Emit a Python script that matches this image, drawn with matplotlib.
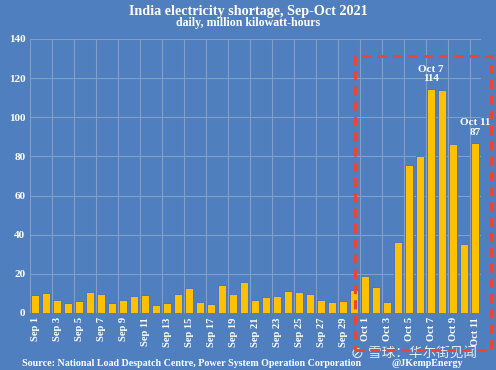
import matplotlib
matplotlib.use("Agg")
import matplotlib.pyplot as plt
from matplotlib.patches import Rectangle

days = [f"Sep {d}" for d in range(1, 31)] + [f"Oct {d}" for d in range(1, 12)]
values = [9.2, 10.2, 6.6, 5.1, 6.1, 10.6, 9.9, 4.9, 6.6, 8.7,
          9.4, 3.9, 4.9, 9.7, 12.6, 5.6, 4.8, 14.3, 9.7, 15.8,
          6.6, 8.2, 8.9, 11.4, 10.7, 9.7, 6.6, 5.4, 6.0, 11.9,
          19.1, 13.1, 5.4, 36.3, 75.6, 80.4, 114.4, 113.9, 86.5, 35.1,
          86.9]
annotations = {"Oct 7": "Oct 7\n114", "Oct 11": "Oct 11\n87"}
yticks = [0, 20, 40, 60, 80, 100, 120, 140]

BG = "#4f7fbf"
BAR = "#ffc000"
GRID = "#819fcd"
serif = ["Liberation Serif", "DejaVu Serif"]

W, H = 496, 370
fig = plt.figure(figsize=(W / 100, H / 100), dpi=100, facecolor=BG)
ax = fig.add_axes([29.5 / W, 1 - 313 / H, 451 / W, 274 / H])
ax.set_facecolor(BG)

x = list(range(len(days)))
ax.bar(x, values, width=0.74, color=BAR, edgecolor="#3f70c8", linewidth=0.6, zorder=3)

ax.set_xlim(-0.5, len(days) - 0.5)
ax.set_ylim(0, 140)
ax.set_yticks(yticks)
ax.set_yticklabels([str(t) for t in yticks], color="white", fontweight="bold",
                   family=serif, fontsize=8)
ax.set_xticks(x[::2])
ax.set_xticklabels(days[::2], rotation=90, color="white", fontweight="bold",
                   family=serif, fontsize=7.6)
ax.tick_params(length=0, pad=3)

for v in yticks[1:]:
    ax.axhline(v, color=GRID, linewidth=0.8, zorder=1)
for b in range(0, len(days), 2):
    ax.axvline(b - 0.5, color=GRID, linewidth=0.8, zorder=1)
for s in ax.spines.values():
    s.set_visible(False)

for i, d in enumerate(days):
    if d in annotations:
        ax.text(i, values[i] + 3, annotations[d], ha="center", va="bottom",
                color="white", fontweight="bold", family=serif, fontsize=8,
                linespacing=1.1, zorder=4)

fig.text(248 / W, 1 - 11 / H, "India electricity shortage, Sep-Oct 2021",
         ha="center", va="center", color="white", fontweight="bold",
         family=serif, fontsize=10.2)
fig.text(248 / W, 1 - 23 / H, "daily, million kilowatt-hours",
         ha="center", va="center", color="white", fontweight="bold",
         family=serif, fontsize=8.6)
fig.text(22 / W, 1 - 364 / H,
         "Source: National Load Despatch Centre, Power System Operation Corporation",
         ha="left", va="center", color="white", fontweight="bold",
         family=serif, fontsize=7.2)
fig.text(392 / W, 1 - 364 / H, "@JKempEnergy", ha="left", va="center",
         color="white", fontweight="bold", family=serif, fontsize=7.2)

rect = Rectangle((355 / W, 1 - 350 / H), (490.5 - 355) / W, (350 - 55.5) / H,
                 transform=fig.transFigure, fill=False, edgecolor="#ee4433",
                 linewidth=2.2, linestyle=(0, (3, 2)), zorder=5)
fig.patches.append(rect)

fig.text(368 / W, 1 - 353 / H, "雪球：华尔街见闻", ha="left", va="center",
         color="white", alpha=0.85, family=["Noto Sans CJK SC", "DejaVu Sans"],
         fontsize=9.8)
fig.text(357 / W, 1 - 353 / H, "⊘", ha="center", va="center", color="white",
         alpha=0.85, fontsize=11)

fig.savefig("out.png", dpi=100, facecolor=BG)
